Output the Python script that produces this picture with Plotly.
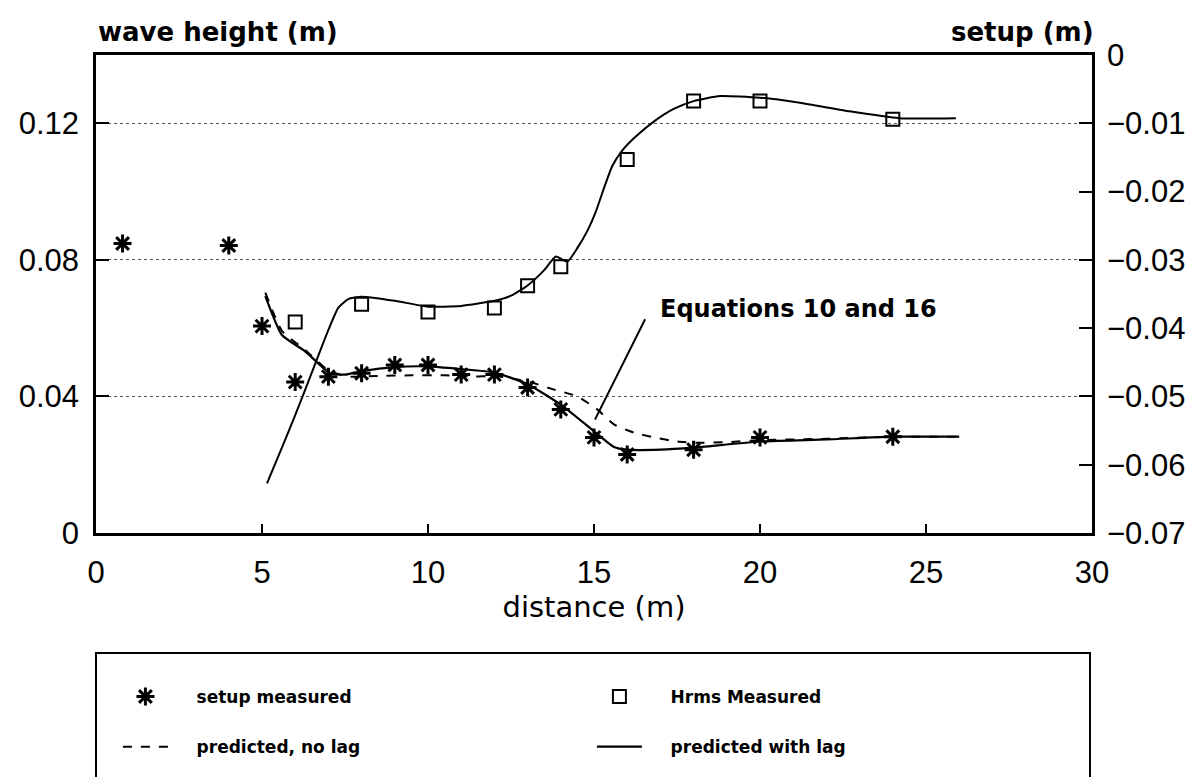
import plotly.graph_objects as go

# ---- measured wave height (Hrms), left axis ----
x_hrms = [6, 8, 10, 12, 13, 14, 16, 18, 20, 24]
hrms = [0.0618, 0.0670, 0.0647, 0.0659, 0.0724, 0.0780, 0.1094, 0.1265, 0.1265, 0.1212]

# ---- predicted wave height (with lag), left axis ----
x_hpred = [5.15, 5.6, 6.0, 6.5, 7.0, 7.3, 7.6, 8.0, 9.0, 10.0, 11.0, 12.0, 12.5, 13.0,
           13.5, 13.85, 14.2, 14.5, 14.8, 15.05, 15.3, 15.55, 15.85, 16.2, 16.8, 17.4,
           18.0, 18.8, 20.0, 21.2, 22.7, 24.2, 25.9]
hpred = [0.0145, 0.0250, 0.0345, 0.0470, 0.0595, 0.0660, 0.0685, 0.0692, 0.0680, 0.0663,
         0.0665, 0.0680, 0.0695, 0.0725, 0.0770, 0.0810, 0.0795, 0.0835, 0.0885, 0.0940,
         0.1010, 0.1075, 0.1120, 0.1156, 0.1205, 0.1242, 0.1265, 0.1280, 0.1275, 0.1260,
         0.1235, 0.1215, 0.1215]

# ---- measured setup, right axis ----
x_setup = [0.8, 4, 5, 6, 7, 8, 9, 10, 11, 12, 13, 14, 15, 16, 18, 20, 24]
setup = [-0.0276, -0.0279, -0.0397, -0.0479, -0.0471, -0.0466, -0.0454, -0.0454, -0.0468,
         -0.0468, -0.0487, -0.0519, -0.0560, -0.0585, -0.0578, -0.0560, -0.0559]

# ---- predicted setup with lag (solid), right axis ----
x_lag = [5.1, 5.6, 6.3, 7.05, 7.5, 8.0, 9.0, 10.0, 11.0, 12.0, 13.0, 14.0, 15.0, 15.6,
         16.0, 17.0, 18.0, 20.0, 22.0, 24.0, 26.0]
setup_lag = [-0.0353, -0.0410, -0.0434, -0.0466, -0.0468, -0.0463, -0.0457, -0.0456, -0.0460,
             -0.0465, -0.0482, -0.0512, -0.0551, -0.0574, -0.0578, -0.0578, -0.0575, -0.0566,
             -0.0563, -0.0559, -0.0559]

# ---- predicted setup without lag (dashed), right axis ----
x_nolag = [5.1, 5.6, 6.3, 7.0, 7.6, 8.5, 9.5, 10.5, 11.4, 12.0, 13.0, 13.8, 14.5, 15.1,
           15.6, 16.2, 16.8, 17.5, 18.2, 19.0, 20.0, 22.0, 24.0, 26.0]
setup_nolag = [-0.0348, -0.0404, -0.0432, -0.0462, -0.0471, -0.0470, -0.0469, -0.0469,
               -0.0471, -0.0470, -0.0478, -0.0490, -0.0500, -0.0519, -0.0541, -0.0553,
               -0.0560, -0.0566, -0.0568, -0.0567, -0.0564, -0.0562, -0.0559, -0.0559]

# ---- axis ticks ----
x_ticks = [0, 5, 10, 15, 20, 25, 30]
wave_ticks = [0, 0.04, 0.08, 0.12]
wave_labels = ["0", "0.04", "0.08", "0.12"]
setup_ticks = [0, -0.01, -0.02, -0.03, -0.04, -0.05, -0.06, -0.07]
setup_labels = ["0", "\u22120.01", "\u22120.02", "\u22120.03", "\u22120.04",
                "\u22120.05", "\u22120.06", "\u22120.07"]

TICK_FONT = dict(family="Liberation Sans, Arial, sans-serif", size=31, color="black")
LABEL_FONT = "DejaVu Sans, sans-serif"
PAD = "\u00a0" * 4

fig = go.Figure()

fig.add_trace(go.Scatter(
    x=x_hpred, y=hpred, mode="lines", yaxis="y",
    line=dict(color="black", width=2, shape="spline", smoothing=0.5),
    showlegend=False, hoverinfo="skip"))

fig.add_trace(go.Scatter(
    x=x_setup, y=setup, mode="markers", yaxis="y2", name=PAD + "setup measured",
    legend="legend",
    marker=dict(symbol="asterisk-open", size=15, color="black",
                line=dict(color="black", width=3))))

fig.add_trace(go.Scatter(
    x=x_hrms, y=hrms, mode="markers", yaxis="y", name=PAD + "Hrms Measured",
    legend="legend",
    marker=dict(symbol="square-open", size=13, color="black",
                line=dict(color="black", width=2))))

fig.add_trace(go.Scatter(
    x=x_nolag, y=setup_nolag, mode="lines", yaxis="y2", name=PAD + "predicted, no lag",
    legend="legend2",
    line=dict(color="black", width=2, dash="dash", shape="spline", smoothing=0.5)))

fig.add_trace(go.Scatter(
    x=x_lag, y=setup_lag, mode="lines", yaxis="y2", name=PAD + "predicted with lag",
    legend="legend2",
    line=dict(color="black", width=2.2, shape="spline", smoothing=0.5)))

legend_common = dict(
    orientation="h", xanchor="left", yanchor="middle", x=0.022,
    font=dict(family=LABEL_FONT, size=17, color="black", weight="bold"),
    itemwidth=45, entrywidth=414, bgcolor="rgba(0,0,0,0)", borderwidth=0,
    traceorder="normal")

fig.update_layout(
    width=1200, height=777,
    margin=dict(l=96, r=108, t=55, b=244),
    paper_bgcolor="white", plot_bgcolor="white",
    showlegend=True,
    legend=dict(legend_common, y=-0.343),
    legend2=dict(legend_common, y=-0.448),
    xaxis=dict(
        range=[0, 30], tickvals=x_ticks, ticks="inside", ticklen=9, tickwidth=2,
        tickcolor="black", showline=True, linewidth=2.5, linecolor="black",
        mirror=True, showgrid=False, zeroline=False, tickfont=TICK_FONT,
        ticklabelstandoff=10,
        title=dict(text="distance (m)", standoff=2,
                   font=dict(family=LABEL_FONT, size=29, color="black"))),
    yaxis=dict(
        range=[0, 0.14], tickvals=wave_ticks, ticktext=wave_labels, ticks="inside",
        ticklen=13, tickwidth=2, tickcolor="black", showline=True, linewidth=2.5,
        linecolor="black", showgrid=True, gridcolor="#555555", gridwidth=1.3,
        griddash="dot", zeroline=False, tickfont=TICK_FONT, ticklabelstandoff=8),
    yaxis2=dict(
        range=[-0.07, 0], tickvals=setup_ticks, ticktext=setup_labels, overlaying="y",
        side="right", anchor="x", ticks="inside", ticklen=13, tickwidth=2,
        tickcolor="black", showline=True, linewidth=2.5, linecolor="black",
        showgrid=False, zeroline=False, tickfont=TICK_FONT, ticklabelstandoff=6),
)

# axis titles above the frame
fig.add_annotation(text="wave height (m)", xref="paper", yref="paper", x=0.0, y=1.0,
                   xanchor="left", yanchor="bottom", yshift=6, showarrow=False,
                   font=dict(family=LABEL_FONT, size=26, color="black", weight="bold"))
fig.add_annotation(text="setup (m)", xref="paper", yref="paper", x=1.0, y=1.0,
                   xanchor="right", yanchor="bottom", yshift=6, xshift=4, showarrow=False,
                   font=dict(family=LABEL_FONT, size=26, color="black", weight="bold"))

# label and leader for the model curves
fig.add_annotation(text="Equations 10 and 16", xref="x", yref="y", x=16.93, y=0.0656,
                   xanchor="left", yanchor="middle", showarrow=False,
                   font=dict(family=LABEL_FONT, size=24, color="black", weight="bold"))
fig.add_shape(type="line", xref="x", yref="y", x0=16.54, y0=0.0626, x1=15.03, y1=0.0332,
              line=dict(color="black", width=2))

# legend frame
fig.add_shape(type="rect", xref="paper", yref="paper", x0=0.0, x1=0.998,
              y0=-0.60, y1=-0.251, line=dict(color="black", width=2),
              fillcolor="rgba(0,0,0,0)", layer="below")

fig.write_html("out.html")
